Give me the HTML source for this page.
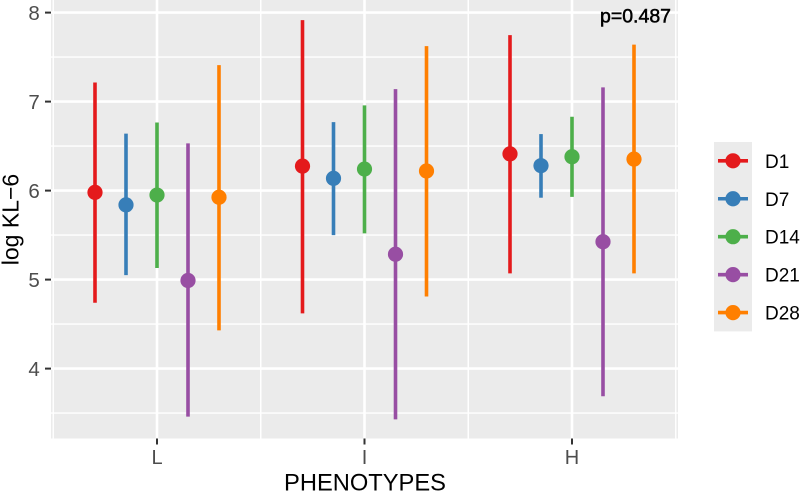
<!DOCTYPE html>
<html>
<head>
<meta charset="utf-8">
<style>
html,body{margin:0;padding:0;background:#fff;width:800px;height:492px;overflow:hidden}
svg{display:block;font-family:"Liberation Sans",sans-serif}
</style>
</head>
<body>
<svg id="chart" width="800" height="492" viewBox="0 0 800 492" xmlns="http://www.w3.org/2000/svg">
<text transform="translate(18.5,219.5) rotate(-90)" text-anchor="middle" font-size="23" fill="#000">log KL−6</text>
<text x="365" y="490.5" text-anchor="middle" font-size="23.7" fill="#000">PHENOTYPES</text>
</svg>
<script>
const categories = ['L', 'I', 'H'];
const seriesNames = ['D1', 'D7', 'D14', 'D21', 'D28'];
const seriesColors = ['#E41A1C', '#377EB8', '#4DAF4A', '#984EA3', '#FF7F00'];
const yTicks = [4, 5, 6, 7, 8];
const yMinorTicks = [3.5, 4.5, 5.5, 6.5, 7.5];
const meanD1 = [5.98, 6.275, 6.413];
const lowD1 = [4.74, 4.62, 5.07];
const highD1 = [7.215, 7.916, 7.747];
const meanD7 = [5.84, 6.137, 6.28];
const lowD7 = [5.05, 5.50, 5.92];
const highD7 = [6.64, 6.77, 6.635];
const meanD14 = [5.95, 6.242, 6.38];
const lowD14 = [5.13, 5.52, 5.93];
const highD14 = [6.765, 6.957, 6.83];
const meanD21 = [4.99, 5.285, 5.425];
const lowD21 = [3.46, 3.43, 3.69];
const highD21 = [6.53, 7.14, 7.16];
const meanD28 = [5.925, 6.22, 6.354];
const lowD28 = [4.43, 4.81, 5.07];
const highD28 = [7.41, 7.624, 7.64];
const annotation = 'p=0.487';

const means = [meanD1, meanD7, meanD14, meanD21, meanD28];
const lows = [lowD1, lowD7, lowD14, lowD21, lowD28];
const highs = [highD1, highD7, highD14, highD21, highD28];

const svg = document.getElementById('chart');
const NS = 'http://www.w3.org/2000/svg';
const panel = {left: 51, right: 678, top: 0, bottom: 438.5};
function yScale(v) { return 12.6 + (8 - v) * 89; }
function xScale(i) { return 157 + i * 207.5; }
function dodge(s) { return (s - 2) * 31; }
function add(tag, attrs, parent) {
  const el = document.createElementNS(NS, tag);
  for (const k in attrs) el.setAttribute(k, attrs[k]);
  (parent || svg).appendChild(el);
  return el;
}

const bg = add('rect', {x: panel.left, y: panel.top, width: panel.right - panel.left, height: panel.bottom - panel.top, fill: '#EBEBEB'});



yMinorTicks.forEach(function (v) {
  const g = add('line', {x1: panel.left, x2: panel.right, y1: yScale(v), y2: yScale(v), stroke: '#fff', 'stroke-width': 1.4});
  
  
});
categories.forEach(function (c, i) {
  [-0.5, 0.5].forEach(function (o) {
    const x = xScale(i + o);
    const g = add('line', {x1: x, x2: x, y1: panel.top, y2: panel.bottom, stroke: '#fff', 'stroke-width': 1.4});
    
    
  });
});
yTicks.forEach(function (v) {
  const y = yScale(v);
  const g = add('line', {x1: panel.left, x2: panel.right, y1: y, y2: y, stroke: '#fff', 'stroke-width': 2.6});
  
  
  const t = add('line', {x1: 45, x2: 51, y1: y, y2: y, stroke: '#333', 'stroke-width': 2});
  
  
  const l = add('text', {x: 39.8, y: y + 7.5, 'text-anchor': 'end', 'font-size': 20.5, fill: '#4D4D4D'});
  
  
  l.textContent = v;
});
categories.forEach(function (c, i) {
  const x = xScale(i);
  const g = add('line', {x1: x, x2: x, y1: panel.top, y2: panel.bottom, stroke: '#fff', 'stroke-width': 2.6});
  
  
  const t = add('line', {x1: x, x2: x, y1: panel.bottom, y2: panel.bottom + 6, stroke: '#333', 'stroke-width': 2});
  
  
  const l = add('text', {x: x, y: 464, 'text-anchor': 'middle', 'font-size': 20, fill: '#4D4D4D'});
  
  
  l.textContent = c;
});

seriesNames.forEach(function (name, s) {
  categories.forEach(function (c, i) {
    const x = xScale(i) + dodge(s);
    const r = add('line', {x1: x, x2: x, y1: yScale(highs[s][i]), y2: yScale(lows[s][i]), stroke: seriesColors[s], 'stroke-width': 3.6});
    
    
    const p = add('circle', {cx: x, cy: yScale(means[s][i]), r: 7.6, fill: seriesColors[s]});
    
    
  });
});

const ann = add('text', {x: 635.5, y: 22.7, 'text-anchor': 'middle', 'font-size': 19.5, fill: '#000', stroke: '#000', 'stroke-width': 0.5});


ann.textContent = annotation;

const legendBg = add('rect', {x: 714, y: 142, width: 38, height: 189.4, fill: '#EBEBEB'});


seriesNames.forEach(function (name, s) {
  const cy = 160.8 + s * 37.95;
  const g = add('g', {});
  
  
  add('line', {x1: 718, x2: 748, y1: cy, y2: cy, stroke: seriesColors[s], 'stroke-width': 3.6}, g);
  add('circle', {cx: 733, cy: cy, r: 7.6, fill: seriesColors[s]}, g);
  const t = add('text', {x: 765, y: cy + 7, 'font-size': 19, fill: '#000'}, g);
  t.textContent = name;
});
</script>
</body>
</html>
